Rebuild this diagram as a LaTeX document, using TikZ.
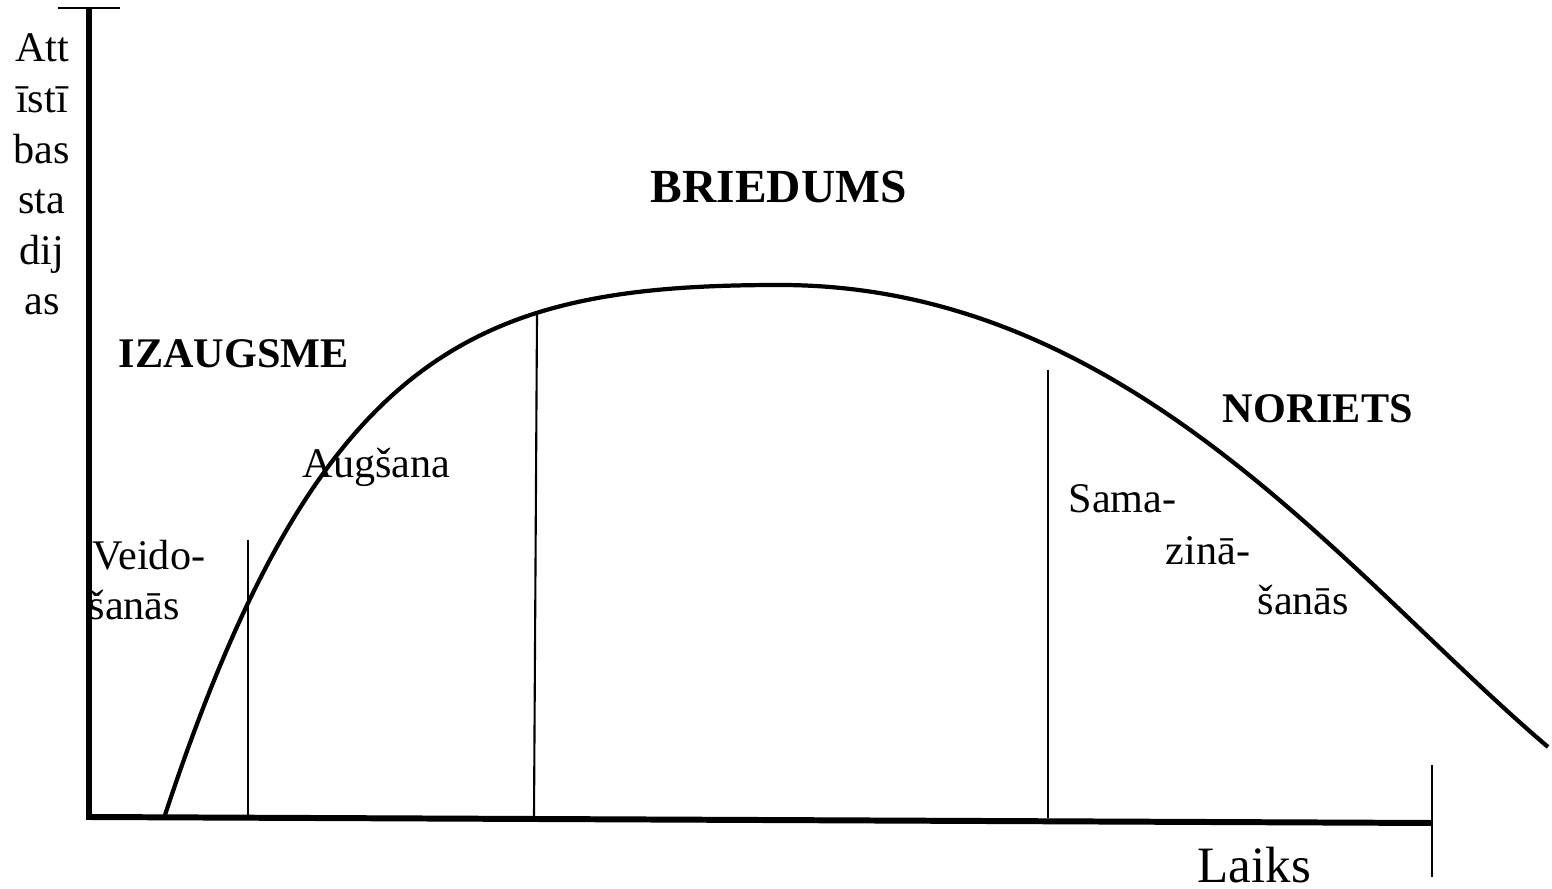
\documentclass[tikz,border=0pt]{standalone}
\usepackage{fontspec}
\setmainfont{Liberation Serif}
\usetikzlibrary{positioning}

\tikzset{
  axisline/.style={line width=1.7pt, line join=miter},
  tickline/.style={line width=0.8pt},
  stageline/.style={line width=0.6pt},
  lifecurve/.style={line width=1.2pt},
  stagetext/.style={font=\fontsize{12}{14}\selectfont, inner sep=0pt, anchor=base west},
  phasetext/.style={font=\fontsize{12}{14}\selectfont\bfseries, inner sep=0pt, anchor=base west},
}

\begin{document}
\begin{tikzpicture}[x=0.01cm, y=-0.01cm]
  \useasboundingbox (0,0) rectangle (1552,889);
  % axes
  \coordinate (origin) at (89,817);
  \coordinate (ytop) at (89,8);
  \coordinate (xend) at (1432,823);
  \coordinate (ytickL) at (58,8);
  \coordinate (ytickR) at (120,8);
  \coordinate (xtickT) at (1432,765);
  \coordinate (xtickB) at (1432,877);
  \draw[axisline] (ytop) -- (origin) -- (xend);
  \draw[tickline] (ytickL) -- (ytickR);
  \draw[tickline] (xtickT) -- (xtickB);

  % axis labels
  \foreach \t [count=\i] in {Att,īstī,bas,sta,dij,as}
    \node[font=\fontsize{12}{14}\selectfont, inner sep=0pt, anchor=base]
      (ylab\i) at (42,{62+(\i-1)*50.6}) {\t};
  \node[font=\fontsize{14.5}{16}\selectfont, inner sep=0pt, anchor=base west]
    (xlab) at (1197,882) {Laiks};

  % stage boundaries
  \foreach \n/\xt/\yt/\xb/\yb in {a/248/540/248/815, b/537/315/534/816, c/1048/370/1048/818}{
    \coordinate (top\n) at (\xt,\yt);
    \coordinate (bot\n) at (\xb,\yb);
    \draw[stageline] (top\n) -- (bot\n);
  }

  % life cycle curve
  \coordinate (start) at (165,815);
  \coordinate (peak) at (780,285);
  \coordinate (end) at (1548,747);
  \draw[lifecurve] (start) .. controls (320,345) and (480,285) .. (peak)
                           .. controls (1130,285) and (1348,577) .. (end);

  % phases
  \node[phasetext, font=\fontsize{13.5}{15}\selectfont\bfseries] (briedums) at (650,203) {BRIEDUMS};
  \node[phasetext] (izaugsme) at (118,368) {IZAUGSME};
  \node[phasetext] (noriets) at (1222,423) {NORIETS};

  % stages
  \node[stagetext] (augsana) at (302,478) {Augšana};
  \node[stagetext] (veido) at (92,570) {Veido-};
  \node[stagetext] (veidoB) at (88,620) {šanās};
  \node[stagetext] (sama) at (1068,513) {Sama-};
  \node[stagetext] (zina) at (1165,565) {zinā-};
  \node[stagetext] (samaB) at (1257,615) {šanās};
\end{tikzpicture}
\end{document}
